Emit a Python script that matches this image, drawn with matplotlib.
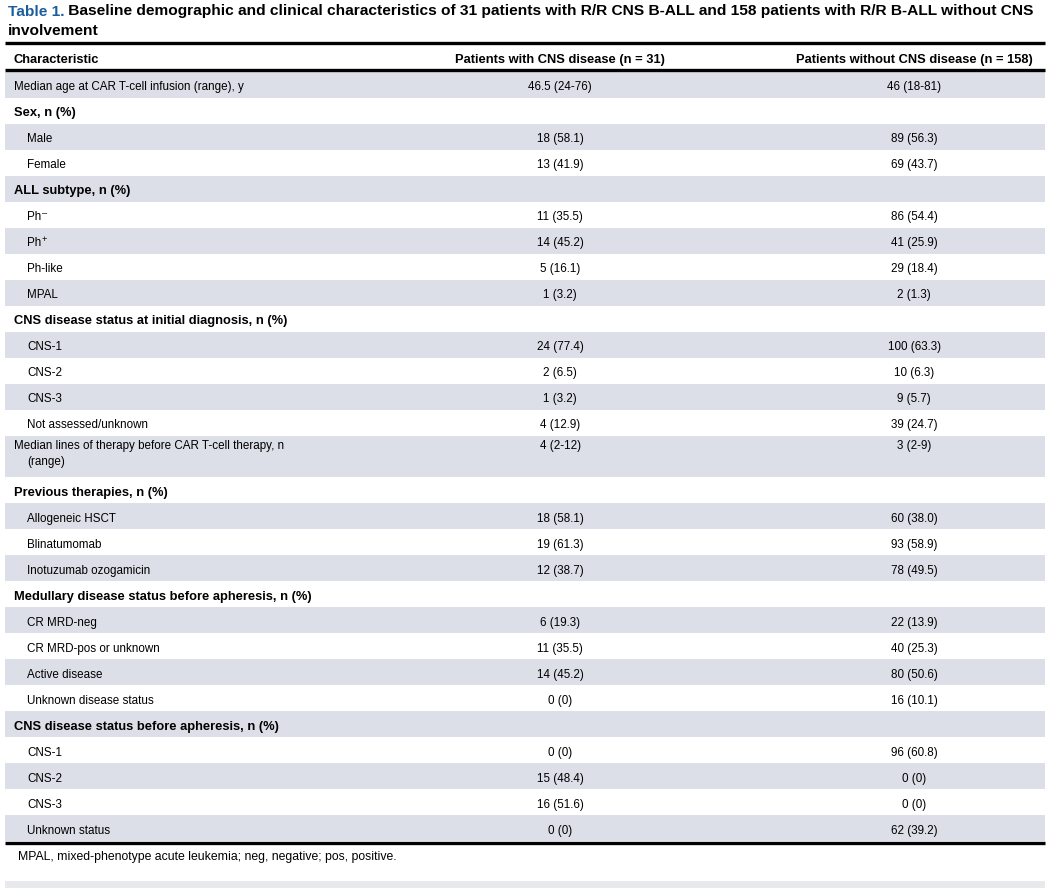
import matplotlib
matplotlib.use("Agg")
import matplotlib.pyplot as plt

plt.rcParams['font.family'] = ['Liberation Sans', 'DejaVu Sans']

# ---------------- data ----------------
title_prefix = "Table 1."
title_line1 = " Baseline demographic and clinical characteristics of 31 patients with R/R CNS B-ALL and 158 patients with R/R B-ALL without CNS"
title_line2 = "involvement"
col_headers = ["Characteristic",
               "Patients with CNS disease (n = 31)",
               "Patients without CNS disease (n = 158)"]

characteristics = [
    "Median age at CAR T-cell infusion (range), y",
    "Sex, n (%)", "Male", "Female",
    "ALL subtype, n (%)", "Ph^\u2013", "Ph^+", "Ph-like", "MPAL",
    "CNS disease status at initial diagnosis, n (%)",
    "CNS-1", "CNS-2", "CNS-3", "Not assessed/unknown",
    "Median lines of therapy before CAR T-cell therapy, n\n(range)",
    "Previous therapies, n (%)",
    "Allogeneic HSCT", "Blinatumomab", "Inotuzumab ozogamicin",
    "Medullary disease status before apheresis, n (%)",
    "CR MRD-neg", "CR MRD-pos or unknown", "Active disease", "Unknown disease status",
    "CNS disease status before apheresis, n (%)",
    "CNS-1", "CNS-2", "CNS-3", "Unknown status",
]
row_kind = [
    "plain",
    "section", "item", "item",
    "section", "item", "item", "item", "item",
    "section",
    "item", "item", "item", "item",
    "plain2",
    "section",
    "item", "item", "item",
    "section",
    "item", "item", "item", "item",
    "section",
    "item", "item", "item", "item",
]
with_cns = [
    "46.5 (24-76)",
    "", "18 (58.1)", "13 (41.9)",
    "", "11 (35.5)", "14 (45.2)", "5 (16.1)", "1 (3.2)",
    "",
    "24 (77.4)", "2 (6.5)", "1 (3.2)", "4 (12.9)",
    "4 (2-12)",
    "",
    "18 (58.1)", "19 (61.3)", "12 (38.7)",
    "",
    "6 (19.3)", "11 (35.5)", "14 (45.2)", "0 (0)",
    "",
    "0 (0)", "15 (48.4)", "16 (51.6)", "0 (0)",
]
without_cns = [
    "46 (18-81)",
    "", "89 (56.3)", "69 (43.7)",
    "", "86 (54.4)", "41 (25.9)", "29 (18.4)", "2 (1.3)",
    "",
    "100 (63.3)", "10 (6.3)", "9 (5.7)", "39 (24.7)",
    "3 (2-9)",
    "",
    "60 (38.0)", "93 (58.9)", "78 (49.5)",
    "",
    "22 (13.9)", "40 (25.3)", "80 (50.6)", "16 (10.1)",
    "",
    "96 (60.8)", "0 (0)", "0 (0)", "62 (39.2)",
]
footnote = "MPAL, mixed-phenotype acute leukemia; neg, negative; pos, positive."

# ---------------- layout ----------------
W, H = 1050, 888
fig = plt.figure(figsize=(W / 100, H / 100), dpi=100)
ax = fig.add_axes([0, 0, 1, 1])
ax.set_xlim(0, W)
ax.set_ylim(H, 0)
ax.axis("off")

left, right = 5, 1045
x_sec, x_item = 13.5, 27
col_x = [560, 914]
shade = "#dcdfe7"
body_fs = 8.4
bold_fs = 9.3
row_h = 26.0
row_h2 = 41.7
base_off = 5.2   # baseline offset below row centre

# title
fig.canvas.draw()
renderer = fig.canvas.get_renderer()
title_fs = 10.5
t1 = ax.text(8, 15.5, title_prefix, color="#1b5e9b", fontsize=title_fs,
             fontweight="bold", va="baseline", ha="left")
t2 = ax.annotate(title_line1, xy=(1, 0), xycoords=t1, ha="left", va="bottom",
                 fontsize=title_fs, fontweight="bold", color="black")
bb1 = t1.get_window_extent(renderer)
bb2 = t2.get_window_extent(renderer)
scale = 1029.0 / (bb1.width + bb2.width)
title_fs *= scale
t1.set_fontsize(title_fs)
t2.set_fontsize(title_fs)
ax.text(8, 35, title_line2, fontsize=title_fs, fontweight="bold",
        va="baseline", ha="left", color="black")

# rules
ax.plot([left, right], [43.2, 43.2], color="black", lw=2.4, solid_capstyle="butt")
ax.plot([left, right], [70.0, 70.0], color="black", lw=2.4, solid_capstyle="butt")

# header
hy = 63.3
ax.text(x_sec, hy, col_headers[0], fontsize=bold_fs, fontweight="bold",
        va="baseline", ha="left")
for cx, h in zip(col_x, col_headers[1:]):
    ax.text(cx, hy, h, fontsize=bold_fs, fontweight="bold", va="baseline", ha="center")


def label(x, yy, s, **kw):
    if "^" in s:
        base, sup = s.split("^")
        t = ax.text(x, yy, base, fontsize=body_fs, va="baseline", ha="left")
        ax.annotate(sup, xy=(1, 0.78), xycoords=t, xytext=(0.3, 0),
                    textcoords="offset points", fontsize=6.6,
                    va="center", ha="left")
    else:
        ax.text(x, yy, s, va="baseline", ha="left", **kw)


# rows
y = 71.7
for i, (lab, kind, v1, v2) in enumerate(zip(characteristics, row_kind, with_cns, without_cns)):
    h = row_h2 if kind == "plain2" else row_h
    if i % 2 == 0:
        ax.add_patch(plt.Rectangle((left, y), right - left, h, facecolor=shade,
                                   edgecolor="none", zorder=0))
    if kind == "plain2":
        first, second = lab.split("\n")
        ty = y + 13.5
        ax.text(x_sec, ty, first, fontsize=body_fs, va="baseline", ha="left")
        ax.text(x_item, ty + 16, second, fontsize=body_fs, va="baseline", ha="left")
    else:
        ty = y + h / 2 + base_off
        if kind == "section":
            label(x_sec, ty, lab, fontsize=bold_fs, fontweight="bold")
        else:
            label(x_sec if kind == "plain" else x_item, ty, lab, fontsize=body_fs)
    for cx, v in zip(col_x, (v1, v2)):
        if v:
            ax.text(cx, ty, v, fontsize=body_fs, va="baseline", ha="center")
    y += h

ax.plot([left, right], [y + 1.2, y + 1.2], color="black", lw=2.4, solid_capstyle="butt")

ax.text(18, 860, footnote, fontsize=8.8, va="baseline", ha="left")
ax.add_patch(plt.Rectangle((left, 881), right - left, 7, facecolor="#e8e9ed",
                           edgecolor="none", zorder=0))

fig.savefig("out.png", dpi=100)
